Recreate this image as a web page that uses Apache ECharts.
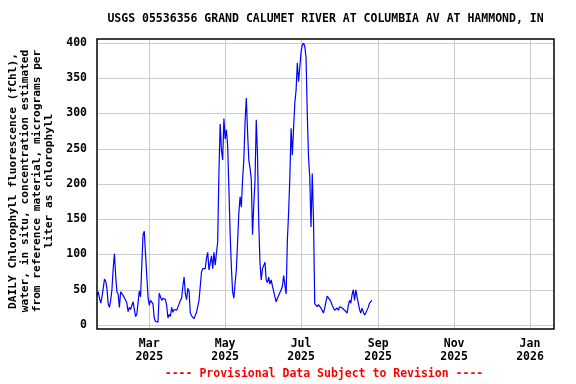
<!DOCTYPE html>
<html>
<head>
<meta charset="utf-8">
<script src="https://cdn.jsdelivr.net/npm/echarts@6/dist/echarts.min.js"></script>
<style>
html,body{margin:0;padding:0;background:#fff;}
#chart{width:576px;height:384px;}
</style>
</head>
<body>
<div id="chart"></div>
<script>
// ---- data ----
var titleText = 'USGS 05536356 GRAND CALUMET RIVER AT COLUMBIA AV AT HAMMOND, IN';
var yTitleLines = [
  'DAILY Chlorophyll fluorescence (fChl),',
  'water, in situ, concentration estimated',
  'from reference material, micrograms per',
  'liter as chlorophyll'
];
var footerText = '---- Provisional Data Subject to Revision ----';
var startDate = [2025, 0, 18];           // first daily value (UTC)
var dailyValues = [
  42,47,38,31,40,52,65,62,52,30,
  25,35,50,80,101,70,47,44,25,47,
  45,42,40,35,31,19,25,22,24,33,
  35,12,15,16,48,40,85,128,133,100,
  70,40,28,35,37,30,10,5,4,4,
  45,40,35,38,40,36,28,10,15,12,
  25,18,22,20,21,22,30,35,38,55,
  68,45,36,52,48,17,13,11,9,14,
  18,17,35,55,75,80,82,80,95,103,
  78,88,98,80,103,85,83,118,217,285,
  248,234,293,264,277,255,194,130,82,47,
  38,60,78,118,159,182,167,206,234,288,
  322,274,234,223,206,128,170,205,291,241,
  145,88,64,80,80,89,64,60,68,58,
  64,55,54,40,33,38,42,40,50,55,
  70,68,44,120,160,210,279,241,280,315,
  333,372,345,366,387,397,400,395,380,300,
  238,210,139,215,150,30,28,26,29,31,
  24,22,17,24,33,41,40,36,33,28,
  26,21,19,24,21,26,28,24,26,21,
  19,17,28,35,31,43,50,35,50,40,
  31,22,17,24,19,14,17,19,25,31,
  33,35
];
var xTickDates = [[2025,2,1],[2025,4,1],[2025,6,1],[2025,8,1],[2025,10,1],[2026,0,1]];
var xRange = [[2025,0,18,0],[2026,0,20,7]];
var yTicks = [0, 50, 100, 150, 200, 250, 300, 350, 400];
var monthNames = ['Jan','Feb','Mar','Apr','May','Jun','Jul','Aug','Sep','Oct','Nov','Dec'];

// ---- build ----
var DAY = 86400000;
var t0 = Date.UTC(startDate[0], startDate[1], startDate[2]);
var seriesData = dailyValues.map(function (v, i) { return [t0 + i * DAY, v]; });
var xTicks = xTickDates.map(function (d) { return Date.UTC(d[0], d[1], d[2]); });
var xMin = Date.UTC(xRange[0][0], xRange[0][1], xRange[0][2], xRange[0][3]);
var xMax = Date.UTC(xRange[1][0], xRange[1][1], xRange[1][2], xRange[1][3]);

var FONT = '"DejaVu Sans Mono", "Liberation Mono", monospace';
var chart = echarts.init(document.getElementById('chart'), null, {renderer: 'canvas'});
var option = {
  animation: false,
  backgroundColor: '#ffffff',
  grid: [
    {left: 97, right: 22, top: 43, bottom: 59},
    {left: 97, right: 22, top: 39, bottom: 55}
  ],
  xAxis: [
    {gridIndex: 0, type: 'value', min: xMin, max: xMax, show: false, splitLine: {show: false}},
    {gridIndex: 1, type: 'value', min: xMin, max: xMax,
      axisLine: {show: false}, axisTick: {show: false, customValues: xTicks},
      splitLine: {show: true, lineStyle: {color: '#cccccc', width: 1}},
      axisLabel: {
        customValues: xTicks, margin: 9,
        fontFamily: FONT, fontWeight: 'bold', fontSize: 11.5, color: '#000', lineHeight: 12.5,
        formatter: function (v) {
          var d = new Date(v);
          return monthNames[d.getUTCMonth()] + '\n' + d.getUTCFullYear();
        }
      }
    }
  ],
  yAxis: [
    {gridIndex: 0, type: 'value', min: yTicks[0], max: yTicks[yTicks.length - 1], interval: 50,
      axisLine: {show: false}, axisTick: {show: false},
      splitLine: {show: true, lineStyle: {color: '#cccccc', width: 1}},
      axisLabel: {margin: 10, fontFamily: FONT, fontWeight: 'bold', fontSize: 11.5, color: '#000'}
    },
    {gridIndex: 1, type: 'value', min: 0, max: 1, show: false, splitLine: {show: false}}
  ],
  series: [{
    type: 'line', xAxisIndex: 0, yAxisIndex: 0,
    data: seriesData, showSymbol: false, symbol: 'none',
    lineStyle: {color: '#0000ff', width: 1.2}
  }],
  graphic: [
    {type: 'rect', shape: {x: 97, y: 39, width: 457, height: 290}, z: 100,
      style: {fill: 'none', stroke: '#000', lineWidth: 1.5}},
    {type: 'text', x: 325.5, y: 19, z: 100,
      style: {text: titleText, font: 'bold 11.5px ' + FONT, fill: '#000', textAlign: 'center', textVerticalAlign: 'middle'}},
    {type: 'text', x: 324, y: 374, z: 100,
      style: {text: footerText, font: 'bold 11.5px ' + FONT, fill: '#ff0000', textAlign: 'center', textVerticalAlign: 'middle'}},
    {type: 'text', x: 31.5, y: 181, rotation: Math.PI / 2, z: 100,
      style: {text: yTitleLines.join('\n'), font: 'bold 11.2px ' + FONT, fill: '#000',
        textAlign: 'center', textVerticalAlign: 'middle', lineHeight: 12}}
  ]
};
chart.setOption(option);
</script>
</body>
</html>
